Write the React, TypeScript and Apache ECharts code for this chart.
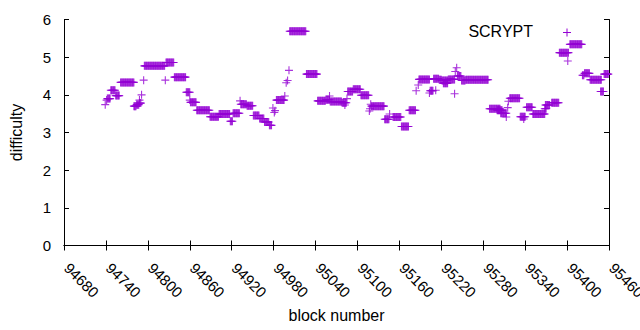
import React, { useEffect, useRef } from "react";
import * as echarts from "echarts";

const xMin = 94680;
const xMax = 95460;
const xStep = 60;
const yMin = 0;
const yMax = 6;
const yStep = 1;
const seriesName = "SCRYPT";
const xTitle = "block number";
const yTitle = "difficulty";

// [first block, last block, difficulty] — runs of constant difficulty
const runs: [number, number, number][] = [
  [94739, 94739, 3.74],
  [94741, 94741, 3.86],
  [94742, 94746, 3.9],
  [94747, 94753, 4.12],
  [94754, 94759, 3.98],
  [94761, 94780, 4.33],
  [94780, 94783, 3.7],
  [94784, 94787, 3.74],
  [94788, 94790, 3.78],
  [94788, 94788, 3.86],
  [94791, 94791, 4.0],
  [94794, 94794, 4.39],
  [94795, 94824, 4.77],
  [94825, 94825, 4.39],
  [94826, 94837, 4.86],
  [94838, 94854, 4.47],
  [94855, 94860, 4.07],
  [94860, 94860, 3.86],
  [94861, 94869, 3.8],
  [94870, 94888, 3.59],
  [94889, 94901, 3.42],
  [94902, 94917, 3.49],
  [94918, 94921, 3.3],
  [94922, 94931, 3.51],
  [94932, 94932, 3.84],
  [94933, 94941, 3.75],
  [94942, 94950, 3.71],
  [94951, 94959, 3.45],
  [94960, 94966, 3.37],
  [94967, 94973, 3.28],
  [94974, 94977, 3.19],
  [94979, 94979, 3.65],
  [94981, 94981, 3.53],
  [94982, 94982, 3.58],
  [94984, 94995, 3.86],
  [94996, 94996, 3.97],
  [94998, 94998, 4.32],
  [95000, 95000, 4.38],
  [95002, 95002, 4.65],
  [95003, 95026, 5.69],
  [95027, 95042, 4.55],
  [95043, 95054, 3.84],
  [95055, 95060, 3.87],
  [95060, 95060, 3.97],
  [95061, 95077, 3.82],
  [95078, 95084, 3.79],
  [95082, 95082, 3.73],
  [95085, 95085, 3.9],
  [95086, 95093, 4.09],
  [95094, 95104, 4.15],
  [95105, 95116, 3.99],
  [95117, 95117, 3.57],
  [95118, 95118, 3.63],
  [95119, 95119, 3.75],
  [95120, 95138, 3.7],
  [95139, 95145, 3.35],
  [95146, 95146, 3.49],
  [95151, 95162, 3.41],
  [95163, 95173, 3.16],
  [95174, 95183, 3.59],
  [95184, 95184, 4.11],
  [95187, 95187, 4.26],
  [95188, 95203, 4.41],
  [95203, 95203, 4.05],
  [95204, 95208, 4.11],
  [95209, 95216, 4.43],
  [95212, 95212, 4.12],
  [95217, 95220, 4.4],
  [95221, 95229, 4.38],
  [95223, 95229, 4.31],
  [95230, 95239, 4.41],
  [95239, 95239, 4.03],
  [95240, 95240, 4.62],
  [95242, 95242, 4.72],
  [95243, 95248, 4.5],
  [95249, 95254, 4.38],
  [95255, 95287, 4.4],
  [95289, 95304, 3.63],
  [95300, 95307, 3.59],
  [95305, 95313, 3.51],
  [95313, 95313, 3.41],
  [95315, 95315, 3.66],
  [95316, 95316, 3.83],
  [95318, 95332, 3.91],
  [95333, 95340, 3.42],
  [95338, 95338, 3.36],
  [95342, 95350, 3.67],
  [95351, 95368, 3.49],
  [95368, 95370, 3.63],
  [95369, 95375, 3.73],
  [95378, 95388, 3.79],
  [95389, 95402, 5.12],
  [95401, 95401, 4.9],
  [95404, 95421, 5.34],
  [95422, 95424, 4.52],
  [95425, 95432, 4.57],
  [95433, 95449, 4.4],
  [95448, 95452, 4.09],
  [95453, 95459, 4.55],
];

const COLOR = "#9400D3";
const FONT = "Liberation Sans, Arial, sans-serif";
const CROSS = "path://M0,4L8,4M4,0L4,8";

function expandRuns(r: [number, number, number][]): [number, number][] {
  const pts: [number, number][] = [];
  for (const [s, e, v] of r) {
    for (let b = s; b <= e; b++) pts.push([b, v]);
  }
  return pts;
}

export default function App() {
  const ref = useRef<HTMLDivElement>(null);
  useEffect(() => {
    if (!ref.current) return;
    const chart = echarts.init(ref.current, null, { renderer: "svg" });
    const axisLine = { show: true, lineStyle: { color: "#000", width: 1 } };
    const tick = { show: true, inside: true, length: 5, lineStyle: { color: "#000", width: 1 } };
    chart.setOption({
      animation: false,
      backgroundColor: "#fff",
      grid: {
        left: 64,
        right: 31,
        top: 19.5,
        bottom: 84.5,
        containLabel: false,
        outerBoundsMode: "none",
      },
      xAxis: [
        {
          type: "value",
          min: xMin,
          max: xMax,
          interval: xStep,
          position: "bottom",
          axisLine,
          axisTick: tick,
          splitLine: { show: false },
          axisLabel: {
            rotate: -45,
            margin: 17,
            padding: [0, 0, 0, 4],
            color: "#000",
            fontSize: 15,
            fontFamily: FONT,
            showMinLabel: true,
            showMaxLabel: true,
            hideOverlap: false,
            formatter: (v: number) => String(v),
          },
          name: xTitle,
          nameLocation: "middle",
          nameGap: 62,
          nameTextStyle: { color: "#000", fontSize: 16, fontFamily: FONT },
        },
        {
          type: "value",
          min: xMin,
          max: xMax,
          interval: xStep,
          position: "top",
          axisLine,
          axisTick: tick,
          axisLabel: { show: false },
          splitLine: { show: false },
        },
      ],
      yAxis: [
        {
          type: "value",
          min: yMin,
          max: yMax,
          interval: yStep,
          position: "left",
          axisLine,
          axisTick: tick,
          splitLine: { show: false },
          axisLabel: { margin: 13, color: "#000", fontSize: 15, fontFamily: FONT },
          name: yTitle,
          nameLocation: "middle",
          nameGap: 40,
          nameTextStyle: { color: "#000", fontSize: 16, fontFamily: FONT },
        },
        {
          type: "value",
          min: yMin,
          max: yMax,
          interval: yStep,
          position: "right",
          axisLine,
          axisTick: tick,
          axisLabel: { show: false },
          splitLine: { show: false },
        },
      ],
      series: [
        {
          name: seriesName,
          type: "scatter",
          data: expandRuns(runs),
          symbol: CROSS,
          symbolSize: 8,
          itemStyle: { color: "transparent", borderColor: COLOR, borderWidth: 1.1 },
          emphasis: { disabled: true },
        },
      ],
      graphic: [
        {
          type: "text",
          x: 533,
          y: 31,
          style: {
            text: seriesName,
            fill: "#000",
            font: `16px ${FONT}`,
            textAlign: "right",
            textVerticalAlign: "middle",
          },
        },
        {
          type: "line",
          shape: { x1: 563, y1: 32.5, x2: 571, y2: 32.5 },
          style: { stroke: COLOR, lineWidth: 1 },
        },
        {
          type: "line",
          shape: { x1: 567, y1: 28.5, x2: 567, y2: 36.5 },
          style: { stroke: COLOR, lineWidth: 1 },
        },
      ],
    });
    return () => chart.dispose();
  }, []);
  return (
    <div
      ref={ref}
      style={{ position: "fixed", left: 0, top: 0, width: 640, height: 330, background: "#fff" }}
    />
  );
}
